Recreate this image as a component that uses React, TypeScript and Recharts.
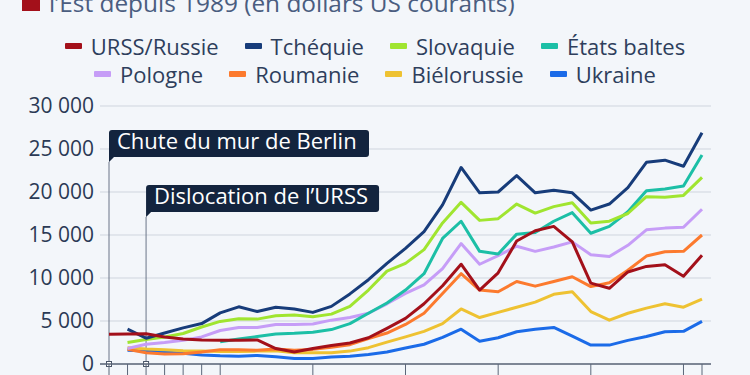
import React from 'react';
import { LineChart, Line, XAxis, YAxis, CartesianGrid, ReferenceLine } from 'recharts';

// ---------- data ----------
const years = [
  1989, 1990, 1991, 1992, 1993, 1994, 1995, 1996, 1997, 1998, 1999,
  2000, 2001, 2002, 2003, 2004, 2005, 2006, 2007, 2008, 2009, 2010,
  2011, 2012, 2013, 2014, 2015, 2016, 2017, 2018, 2019, 2020, 2021,
];

const russia = [3450, 3500, 3520, 3150, 2900, 2800, 2750, 2750, 2800, 1800, 1400, 1800, 2150, 2450, 3050, 4150, 5300, 7000, 9100, 11600, 8600, 10600, 14300, 15500, 16000, 14200, 9400, 8800, 10700, 11350, 11550, 10200, 12650];
const czech = [null, 4050, 3000, 3600, 4200, 4700, 5950, 6650, 6100, 6600, 6400, 6000, 6700, 8150, 9800, 11700, 13450, 15400, 18500, 22850, 19900, 20000, 21900, 19900, 20200, 19900, 17900, 18600, 20500, 23450, 23700, 23000, 26900];
const slovakia = [null, 2500, 2850, 3150, 3550, 4300, 4950, 5250, 5220, 5600, 5700, 5500, 5800, 6700, 8600, 10800, 11700, 13300, 16400, 18800, 16700, 16900, 18600, 17550, 18300, 18750, 16400, 16600, 17500, 19450, 19400, 19600, 21700];
const baltics = [null, null, null, null, null, null, 2600, 2900, 3200, 3500, 3570, 3700, 4000, 4700, 5900, 7100, 8600, 10500, 14600, 16600, 13100, 12800, 15100, 15300, 16600, 17600, 15200, 16000, 17700, 20150, 20350, 20700, 24300];
const poland = [null, 1800, 2300, 2500, 2750, 3150, 3900, 4250, 4250, 4600, 4600, 4650, 5100, 5400, 5900, 7000, 8200, 9200, 11100, 14000, 11600, 12600, 13700, 13100, 13600, 14200, 12700, 12500, 13800, 15600, 15800, 15900, 18000];
const romania = [null, 1700, 1300, 1150, 1200, 1400, 1650, 1650, 1600, 1750, 1600, 1700, 1950, 2250, 2950, 3600, 4600, 5900, 8200, 10500, 8600, 8400, 9600, 9050, 9600, 10150, 9000, 9450, 10900, 12550, 13050, 13100, 15000];
const belarus = [null, 1900, 1750, 1650, 1550, 1500, 1450, 1450, 1500, 1550, 1300, 1300, 1300, 1500, 1900, 2550, 3150, 3800, 4700, 6400, 5400, 6000, 6600, 7200, 8100, 8400, 6100, 5100, 5900, 6500, 7000, 6600, 7550];
const ukraine = [null, 1600, 1500, 1400, 1250, 1050, 950, 900, 1000, 850, 650, 650, 800, 900, 1100, 1400, 1850, 2300, 3100, 4050, 2650, 3050, 3750, 4050, 4250, 3250, 2200, 2200, 2750, 3200, 3750, 3800, 4950];

const seriesNames = ['URSS/Russie', 'Tchéquie', 'Slovaquie', 'États baltes', 'Pologne', 'Roumanie', 'Biélorussie', 'Ukraine'];
const seriesKeys = ['russia', 'czech', 'slovakia', 'baltics', 'poland', 'romania', 'belarus', 'ukraine'];
const seriesValues = [russia, czech, slovakia, baltics, poland, romania, belarus, ukraine];

const yTicks = [0, 5000, 10000, 15000, 20000, 25000, 30000];
const xTicks = [1989, 1990, 1991, 1992, 1993, 1994, 1995, 2000, 2005, 2010, 2015, 2020, 2021];

const titleLine = 'l’Est depuis 1989 (en dollars US courants)';

const annotationYears = [1989, 1991];
const annotationLabels = ['Chute du mur de Berlin', 'Dislocation de l’URSS'];
const annotationLevels = [23500, 17100];

// ---------- styles ----------
const seriesColors = ['#a3101a', '#173c7a', '#a0e530', '#1cbfa6', '#c69df7', '#fc7a2e', '#eec232', '#1b6be8'];
const annotationBoxWidths = [260, 233];
const FONT = '"Open Sans", "Noto Sans", sans-serif';
const BG = '#f3f6fa';

const rows = years.map((yr, i) => {
  const r: Record<string, number | null> = { year: yr };
  seriesKeys.forEach((k, j) => {
    r[k] = seriesValues[j][i];
  });
  return r;
});

const fmt = (v: number) => String(v).replace(/\B(?=(\d{3})+(?!\d))/g, ' ');

const EmptyTick = () => <g />;

const AnnotationLabel = (props: any) => {
  const { viewBox, text, boxWidth } = props;
  if (!viewBox) return null;
  const x = viewBox.x;
  const tip = viewBox.y;
  const axisY = viewBox.y + viewBox.height;
  const tail = 5;
  const h = 27;
  const r = 3;
  const bottom = tip - tail;
  const top = bottom - h;
  const w = boxWidth;
  const d = `M${x},${tip} L${x},${top + r} Q${x},${top} ${x + r},${top} L${x + w - r},${top} Q${x + w},${top} ${x + w},${top + r} L${x + w},${bottom - r} Q${x + w},${bottom} ${x + w - r},${bottom} L${x + tail},${bottom} Z`;
  return (
    <g>
      <path d={d} fill="#13243e" />
      <text x={x + 8} y={bottom - 8} fill="#ffffff" fontSize={22} fontWeight={500} fontFamily={FONT}>
        {text}
      </text>
      <rect x={x - 2.5} y={axisY - 2.5} width={5} height={5} fill="#ffffff" stroke="#4a5568" strokeWidth={1} />
    </g>
  );
};

const Legend = () => {
  const renderRow = (from: number, to: number) => (
    <div
      style={{
        display: 'flex',
        justifyContent: 'center',
        alignItems: 'center',
        height: 28,
        lineHeight: '28px',
      }}
    >
      {seriesNames.slice(from, to).map((n, i) => (
        <div key={n} style={{ display: 'flex', alignItems: 'center', marginLeft: i === 0 ? 0 : 26 }}>
          <div style={{ width: 17, height: 6, borderRadius: 1, background: seriesColors[from + i], marginRight: 9 }} />
          <span>{n}</span>
        </div>
      ))}
    </div>
  );
  return (
    <div
      style={{
        position: 'absolute',
        top: 32,
        left: 0,
        width: 750,
        fontFamily: FONT,
        fontSize: 22,
        color: '#2e3e5c',
      }}
    >
      {renderRow(0, 4)}
      {renderRow(4, 8)}
    </div>
  );
};

export default function App() {
  return (
    <div
      style={{
        position: 'absolute',
        top: 0,
        left: 0,
        width: 750,
        height: 375,
        overflow: 'hidden',
        background: BG,
        fontFamily: FONT,
      }}
    >
      <div
        style={{
          position: 'absolute',
          left: 22,
          top: -7,
          width: 18,
          height: 18,
          background: '#a3101a',
        }}
      />
      <div
        style={{
          position: 'absolute',
          left: 49,
          top: -9,
          fontSize: 24.4,
          lineHeight: '24px',
          color: '#4a5d80',
          whiteSpace: 'nowrap',
        }}
      >
        {titleLine}
      </div>
      <Legend />
      <div style={{ position: 'absolute', top: 0, left: 0 }}>
        <LineChart width={750} height={400} data={rows} margin={{ top: 106, right: 39, bottom: 6, left: 0 }}>
          <CartesianGrid vertical={false} stroke="#cfd5de" strokeWidth={1} />
          <YAxis
            type="number"
            domain={[0, 30000]}
            ticks={yTicks}
            width={100}
            axisLine={false}
            tickLine={false}
            tickSize={0}
            tickMargin={6}
            tickFormatter={fmt}
            tick={{ fill: '#2b3a55', fontSize: 21, fontFamily: FONT }}
            interval={0}
          />
          <XAxis
            dataKey="year"
            type="number"
            domain={[1989, 2021]}
            ticks={xTicks}
            interval={0}
            padding={{ left: 9, right: 9 }}
            height={30}
            tick={EmptyTick}
            tickSize={14}
            tickLine={{ stroke: '#5b6679', strokeWidth: 1 }}
            axisLine={{ stroke: '#5b6679', strokeWidth: 1.5 }}
          />
          {annotationYears.map((yr, i) => (
            <ReferenceLine
              key={yr}
              segment={[
                { x: yr, y: 0 },
                { x: yr, y: annotationLevels[i] },
              ]}
              stroke="#6b7588"
              strokeWidth={1}
              label={<AnnotationLabel text={annotationLabels[i]} boxWidth={annotationBoxWidths[i]} />}
            />
          ))}
          {seriesKeys
            .map((k, i) => ({ k, i }))
            .reverse()
            .map(({ k, i }) => (
              <Line
                key={k}
                type="linear"
                dataKey={k}
                name={seriesNames[i]}
                stroke={seriesColors[i]}
                strokeWidth={3}
                dot={false}
                activeDot={false}
                strokeLinejoin="round"
                isAnimationActive={false}
              />
            ))}
        </LineChart>
      </div>
    </div>
  );
}
